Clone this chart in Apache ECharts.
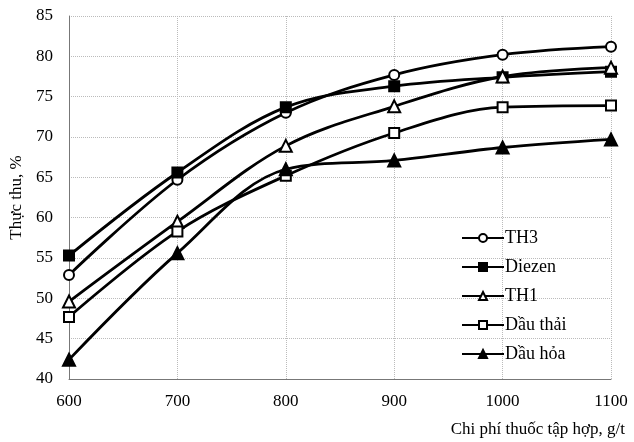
<!DOCTYPE html>
<html><head><meta charset="utf-8">
<script src="https://cdn.jsdelivr.net/npm/echarts@6/dist/echarts.min.js"></script>
<style>html,body{margin:0;padding:0;background:#fff}#c{width:634px;height:442px}</style>
</head><body><div id="c"></div>
<script>
const xValues = [600, 700, 800, 900, 1000, 1100];
const th3 = [52.9, 64.7, 73.0, 77.7, 80.2, 81.2];
const diezen = [55.3, 65.6, 73.7, 76.3, 77.4, 78.1];
const th1 = [49.6, 59.5, 68.9, 73.8, 77.5, 78.6];
const dauThai = [47.7, 58.3, 65.2, 70.5, 73.7, 73.9];
const dauHoa = [42.4, 55.6, 66.0, 67.1, 68.7, 69.7];
const seriesNames = ['TH3', 'Diezen', 'TH1', 'Dầu thải', 'Dầu hỏa'];
const yTicks = [40, 45, 50, 55, 60, 65, 70, 75, 80, 85];

const font = 'Liberation Serif, Times New Roman, serif';
function mk(name, vals, symbol, filled) {
  return {
    name, type: 'line', smooth: 0.35,
    data: xValues.map((x, i) => [x, vals[i]]),
    symbol, symbolSize: symbol === 'triangle' ? 12 : 10,
    lineStyle: { color: '#000', width: 2.8 },
    itemStyle: { color: filled ? '#000' : '#fff', borderColor: '#000', borderWidth: 2 },
    emphasis: { disabled: true }
  };
}
const chart = echarts.init(document.getElementById('c'));
chart.setOption({
  animation: false,
  grid: { left: 68, right: 23, top: 16, bottom: 63 },
  xAxis: {
    type: 'value', min: 600, max: 1100, interval: 100,
    name: 'Chi phí thuốc tập hợp, g/t', nameLocation: 'end',
    nameGap: 0,
    nameTextStyle: { fontFamily: font, fontSize: 17, color: '#000', align: 'right', verticalAlign: 'top', padding: [42, -14, 0, 0] },
    axisLine: { lineStyle: { color: '#777', width: 1 } },
    axisTick: { show: false },
    axisLabel: { fontFamily: font, fontSize: 17, color: '#000', margin: 14, formatter: v => String(v) },
    splitLine: { show: true, lineStyle: { color: '#bbb', type: 'dotted' } }
  },
  yAxis: {
    type: 'value', min: 40, max: 85, interval: 5,
    name: 'Thực thu, %', nameLocation: 'middle', nameGap: 44,
    nameTextStyle: { fontFamily: font, fontSize: 17, color: '#000' },
    axisLine: { show: true, lineStyle: { color: '#777', width: 1 } },
    axisTick: { show: false },
    axisLabel: { fontFamily: font, fontSize: 17, color: '#000', margin: 16,
      formatter: v => yTicks.includes(v) ? String(v) : '' },
    splitLine: { show: true, lineStyle: { color: '#bbb', type: 'dotted' } }
  },
  legend: {
    orient: 'vertical', left: 456, top: 224, itemGap: 11,
    itemWidth: 42, itemHeight: 10,
    textStyle: { fontFamily: font, fontSize: 18, color: '#000', padding: [0, 0, 0, -4] },
    data: seriesNames
  },
  series: [
    mk('TH3', th3, 'circle', false),
    mk('Diezen', diezen, 'rect', true),
    mk('TH1', th1, 'triangle', false),
    mk('Dầu thải', dauThai, 'rect', false),
    mk('Dầu hỏa', dauHoa, 'triangle', true)
  ]
});
</script></body></html>
